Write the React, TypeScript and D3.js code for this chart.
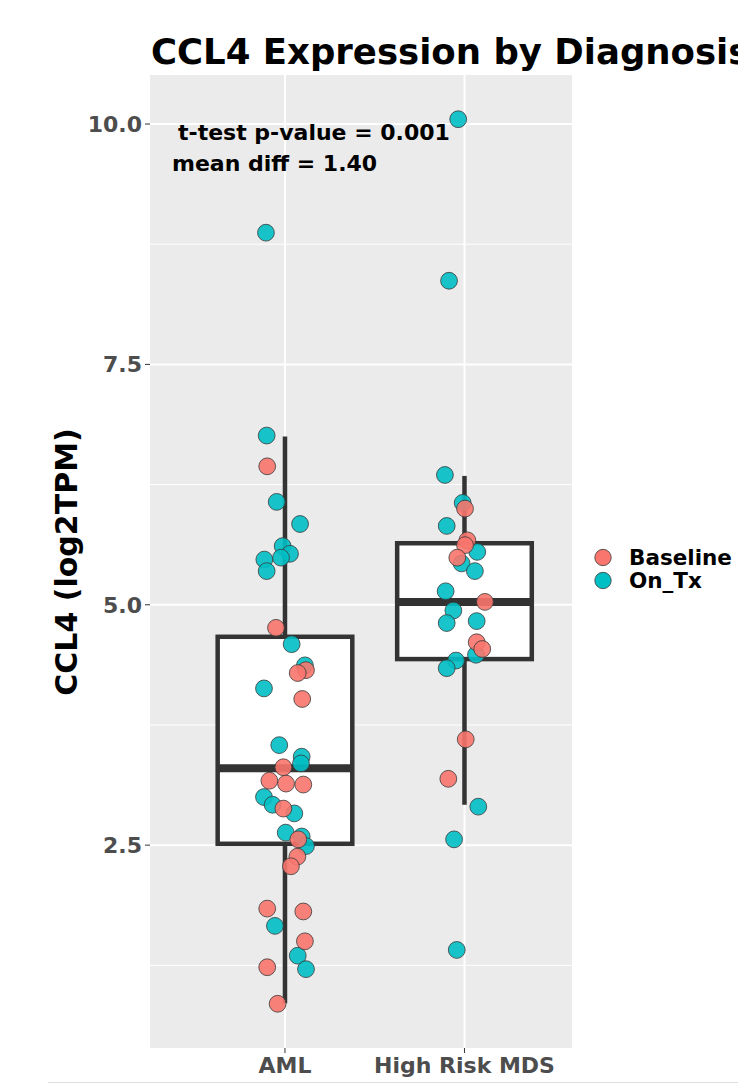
import React from "react";
import * as d3 from "d3";

// ---- data ----
const categories = ["AML", "High Risk MDS"];
const groups = ["Baseline", "On_Tx"];
const groupColors = ["#F8766D", "#00BFC4"];

const yTicks = [2.5, 5.0, 7.5, 10.0];
const yMinor = [1.25, 3.75, 6.25, 8.75];

// box statistics per category
const whiskerLow = [0.855, 2.92];
const q1 = [2.514, 4.435];
const median = [3.3, 5.03];
const q3 = [4.667, 5.64];
const whiskerHigh = [6.75, 6.34];

// AML points
const amlOnTxValues = [8.87, 6.76, 6.07, 5.84, 5.61, 5.53, 5.47, 5.49, 5.35, 4.59, 4.37, 4.13, 3.54, 3.42, 3.35, 3.0, 2.92, 2.83, 2.63, 2.59, 2.49, 1.66, 1.35, 1.21];
const amlOnTxJitter = [-0.106, -0.102, -0.046, 0.084, -0.013, 0.028, -0.115, -0.022, -0.102, 0.037, 0.111, -0.117, -0.032, 0.093, 0.089, -0.117, -0.069, 0.052, 0.004, 0.093, 0.117, -0.056, 0.071, 0.117];
const amlBaselineValues = [6.44, 4.76, 4.32, 4.29, 4.02, 3.31, 3.17, 3.14, 3.13, 2.88, 2.56, 2.38, 2.28, 1.84, 1.81, 1.5, 1.23, 0.85];
const amlBaselineJitter = [-0.099, -0.05, 0.117, 0.071, 0.096, -0.009, -0.087, 0.006, 0.102, -0.009, 0.074, 0.069, 0.033, -0.099, 0.102, 0.111, -0.099, -0.041];

// High Risk MDS points
const mdsOnTxValues = [10.05, 8.37, 6.35, 6.06, 5.82, 5.55, 5.43, 5.35, 5.14, 4.94, 4.81, 4.83, 4.48, 4.42, 4.34, 2.9, 2.56, 1.41];
const mdsOnTxJitter = [-0.035, -0.086, -0.109, -0.01, -0.099, 0.071, -0.016, 0.058, -0.105, -0.062, -0.099, 0.068, 0.064, -0.047, -0.099, 0.077, -0.058, -0.043];
const mdsBaselineValues = [6.0, 5.67, 5.62, 5.49, 5.03, 4.61, 4.54, 3.6, 3.19];
const mdsBaselineJitter = [0.003, 0.016, 0.003, -0.04, 0.114, 0.068, 0.099, 0.007, -0.09];

const titleText = "CCL4 Expression by Diagnosis";
const yTitle = "CCL4 (log2TPM)";
const annotLine1 = "t-test p-value = 0.001";
const annotLine2 = "mean diff = 1.40";

type Pt = { cat: number; group: number; value: number; jitter: number };

function build(cat: number, group: number, values: number[], jit: number[]): Pt[] {
  return values.map((v, i) => ({ cat, group, value: v, jitter: jit[i] }));
}

export default function App() {
  const W = 738;
  const H = 1085;
  const panel = { left: 150, right: 572, top: 75, bottom: 1048 };

  const x = d3.scaleLinear().domain([0.248, 2.599]).range([panel.left, panel.right]);
  const y = d3.scaleLinear().domain([0.39, 10.51]).range([panel.bottom, panel.top]);

  const points: Pt[] = [
    ...build(1, 1, amlOnTxValues, amlOnTxJitter),
    ...build(2, 1, mdsOnTxValues, mdsOnTxJitter),
    ...build(1, 0, amlBaselineValues, amlBaselineJitter),
    ...build(2, 0, mdsBaselineValues, mdsBaselineJitter),
  ];

  const boxHalf = 0.375;
  const font = "'DejaVu Sans', sans-serif";
  const boxStroke = "#333333";

  return (
    <svg
      width={W}
      height={H}
      style={{ position: "absolute", left: 0, top: 0, background: "#fff" }}
      fontFamily={font}
    >
      <rect x={0} y={0} width={W} height={H} fill="#fff" />
      {/* panel */}
      <rect
        x={panel.left}
        y={panel.top}
        width={panel.right - panel.left}
        height={panel.bottom - panel.top}
        fill="#EBEBEB"
      />
      {yMinor.map((t) => (
        <line key={"mn" + t} x1={panel.left} x2={panel.right} y1={y(t)} y2={y(t)} stroke="#fff" strokeWidth={1} />
      ))}
      {yTicks.map((t) => (
        <line key={"mj" + t} x1={panel.left} x2={panel.right} y1={y(t)} y2={y(t)} stroke="#fff" strokeWidth={2} />
      ))}
      {categories.map((c, i) => (
        <line key={"vx" + c} x1={x(i + 1)} x2={x(i + 1)} y1={panel.top} y2={panel.bottom} stroke="#fff" strokeWidth={2} />
      ))}

      {/* boxplots */}
      {categories.map((c, i) => {
        const cx = x(i + 1);
        const x0 = x(i + 1 - boxHalf);
        const x1 = x(i + 1 + boxHalf);
        return (
          <g key={"box" + c}>
            <line x1={cx} x2={cx} y1={y(q3[i])} y2={y(whiskerHigh[i])} stroke={boxStroke} strokeWidth={4.5} />
            <line x1={cx} x2={cx} y1={y(q1[i])} y2={y(whiskerLow[i])} stroke={boxStroke} strokeWidth={4.5} />
            <rect
              x={x0}
              y={y(q3[i])}
              width={x1 - x0}
              height={y(q1[i]) - y(q3[i])}
              fill="#fff"
              stroke={boxStroke}
              strokeWidth={4.5}
            />
            <line x1={x0} x2={x1} y1={y(median[i])} y2={y(median[i])} stroke={boxStroke} strokeWidth={8} />
          </g>
        );
      })}

      {/* points */}
      {points.map((p, i) => (
        <circle
          key={"p" + i}
          cx={x(p.cat + p.jitter)}
          cy={y(p.value)}
          r={8.4}
          fill={groupColors[p.group]}
          fillOpacity={0.9}
          stroke="#3a3a3a"
          strokeOpacity={0.8}
          strokeWidth={1}
        />
      ))}

      {/* annotation */}
      <text x={178} y={140} fontSize={22} fontWeight="bold" fill="#000">{annotLine1}</text>
      <text x={172} y={171} fontSize={22} fontWeight="bold" fill="#000">{annotLine2}</text>

      {/* y axis */}
      {yTicks.map((t) => (
        <g key={"yt" + t}>
          <line x1={panel.left - 5} x2={panel.left} y1={y(t)} y2={y(t)} stroke="#333" strokeWidth={1} />
          <text
            x={panel.left - 8}
            y={y(t)}
            dy="0.36em"
            textAnchor="end"
            fontSize={22}
            fontWeight="bold"
            fill="#4D4D4D"
          >
            {d3.format(".1f")(t)}
          </text>
        </g>
      ))}
      <text
        transform={`translate(77,562) rotate(-90)`}
        textAnchor="middle"
        fontSize={30}
        fontWeight="bold"
        fill="#000"
      >
        {yTitle}
      </text>

      {/* x axis */}
      {categories.map((c, i) => (
        <g key={"xt" + c}>
          <line x1={x(i + 1)} x2={x(i + 1)} y1={panel.bottom} y2={panel.bottom + 5} stroke="#333" strokeWidth={1} />
          <text x={x(i + 1)} y={1073} textAnchor="middle" fontSize={22} fontWeight="bold" fill="#4D4D4D">
            {c}
          </text>
        </g>
      ))}

      {/* title */}
      <text x={151} y={64} fontSize={35.5} fontWeight="bold" fill="#000">{titleText}</text>

      {/* legend */}
      {groups.map((g, i) => (
        <g key={"lg" + g}>
          <circle cx={603} cy={557.5 + i * 23} r={8.2} fill={groupColors[i]} stroke="#3a3a3a" strokeOpacity={0.8} strokeWidth={1} />
          <text x={629} y={565 + i * 23} fontSize={21.5} fontWeight="bold" fill="#000">{g}</text>
        </g>
      ))}

      <line x1={48} x2={W} y1={1082.5} y2={1082.5} stroke="#DDDDDD" strokeWidth={1} />
    </svg>
  );
}
